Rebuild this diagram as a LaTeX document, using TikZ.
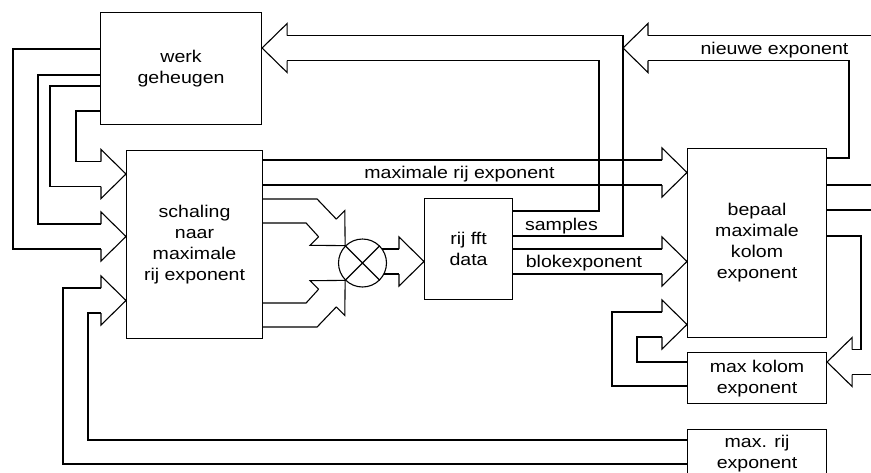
\documentclass[tikz,border=0pt]{standalone}
\usepackage{fontspec}
\setmainfont{Liberation Sans}[FakeStretch=1.15]
\usetikzlibrary{positioning,calc}

\begin{document}
\begin{tikzpicture}[
  x=1pt, y=-1pt,
  font=\fontsize{17}{21}\selectfont,
  line width=1.1pt,
  blok/.style={draw, align=center, inner sep=0pt, anchor=north west},
  lijn/.style={line join=miter},
  tekst/.style={inner sep=0pt, anchor=base},
  pics/kop/.style={code={
    \draw (-25,12.5) -- (-25,24.5) -- (0,0) -- (-25,-24.5) -- (-25,-12.5);
    \coordinate (-a) at (-25,-12.5);
    \coordinate (-b) at (-25,12.5);
  }}
]
\useasboundingbox (0,0) rectangle (871,472);

\node[blok, minimum width=161pt, minimum height=112pt] (werk) at (100,12) {werk\\geheugen};
\node[blok, minimum width=136pt, minimum height=188pt] (schaling) at (126,150) {schaling\\naar\\maximale\\rij exponent};
\node[draw, circle, minimum size=48pt, inner sep=0pt] (mul) at (362.5,263) {};
\node[blok, minimum width=88pt, minimum height=101pt] (rijfft) at (424,198) {rij fft\\data};
\node[blok, minimum width=139pt, minimum height=189pt] (bepaal) at (687,148) {bepaal\\maximale\\kolom\\exponent};
\node[blok, minimum width=139pt, minimum height=51pt, below=14pt of bepaal.south west, anchor=north west] (maxkolom) {max kolom\\exponent};
\node[blok, minimum width=139pt, minimum height=48pt, below=25pt of maxkolom.south west, anchor=north west] (maxrij) {max. rij\\exponent};

% ingangen schaling
\pic (ka) at (schaling.west |- 0,174) {kop};
\pic (kb) at (schaling.west |- 0,236.5) {kop};
\pic (kc) at (schaling.west |- 0,300.5) {kop};
\draw[lijn] (werk.west |- 0,86) -| (ka-b -| 50,0) -- (ka-b);
\draw[lijn] (werk.west |- 0,111) -| (ka-a -| 76,0) -- (ka-a);
\draw[lijn] (werk.west |- 0,49) -| (kb-b -| 13,0) -- (kb-b);
\draw[lijn] (werk.west |- 0,75) -| (kb-a -| 38,0) -- (kb-a);
\draw[lijn] (maxrij.west |- 0,464) -| (kc-a -| 63,0) -- (kc-a);
\draw[lijn] (maxrij.west |- 0,440) -| (kc-b -| 88,0) -- (kc-b);

% vermenigvuldiger
\draw (mul.45) -- (mul.225) (mul.135) -- (mul.-45);
\pic[rotate=-45] (kd) at (mul.135) {kop};
\pic[rotate=45] (ke) at (mul.225) {kop};
\draw[lijn] (schaling.east |- 0,199) -- ++(54,0) -- (kd-a);
\draw[lijn] (schaling.east |- 0,223) -- ++(43,0) -- (kd-b);
\draw[lijn] (schaling.east |- 0,303) -- ++(43,0) -- (ke-a);
\draw[lijn] (schaling.east |- 0,327) -- ++(54,0) -- (ke-b);
\pic (kf) at (rijfft.west |- 0,261.5) {kop};
\draw[lijn] (kf-a -| mul.36) -- (kf-a);
\draw[lijn] (kf-b -| mul.-27) -- (kf-b);

% maximale rij exponent
\pic (kg) at (bepaal.west |- 0,172.5) {kop};
\draw[lijn] (schaling.east |- kg-a) -- (kg-a);
\draw[lijn] (schaling.east |- kg-b) -- (kg-b);
\node[tekst] (maxrijexp) at (459.5,178) {maximale rij exponent};

% blokexponent
\pic (kh) at (bepaal.west |- 0,261.5) {kop};
\draw[lijn] (rijfft.east |- kh-a) -- (kh-a);
\draw[lijn] (rijfft.east |- kh-b) -- (kh-b);
\node[tekst] (blokexp) at (584,267) {blokexponent};

% samples
\pic[rotate=180] (kj) at (werk.east |- 0,48) {kop};
\draw[lijn] (rijfft.east |- 0,211) -| (kj-a -| 599,0) -- (kj-a);
\draw[lijn] (rijfft.east |- 0,236) -| (kj-b -| 623,0) -- (kj-b);
\node[tekst] (samples) at (561.5,230) {samples};

% nieuwe exponent
\coordinate (nieuw) at (623,48);
\pic[rotate=180] (kk) at (nieuw) {kop};
\draw[lijn] (bepaal.east |- 0,158) -| (kk-a -| 849,0) -- (kk-a);
\draw[lijn] (kk-b) -- (kk-b -| 871,0);
\node[tekst] (nieuwexp) at (774.5,54) {nieuwe exponent};

% rechterkant
\draw[lijn] (bepaal.east |- 0,185) -- (871,185);
\draw[lijn] (bepaal.east |- 0,210) -- (871,210);
\pic[rotate=180] (kl) at (maxkolom.east |- 0,362) {kop};
\draw[lijn] (bepaal.east |- 0,236) -| (kl-b -| 861,0) -- (kl-b);
\draw[lijn] (kl-a) -- (kl-a -| 871,0);

% terugkoppeling max kolom
\pic (ki) at (bepaal.west |- 0,324.5) {kop};
\draw[lijn] (maxkolom.west |- 0,362) -| (ki-b -| 637,0) -- (ki-b);
\draw[lijn] (maxkolom.west |- 0,386) -| (ki-a -| 612,0) -- (ki-a);
\end{tikzpicture}
\end{document}
